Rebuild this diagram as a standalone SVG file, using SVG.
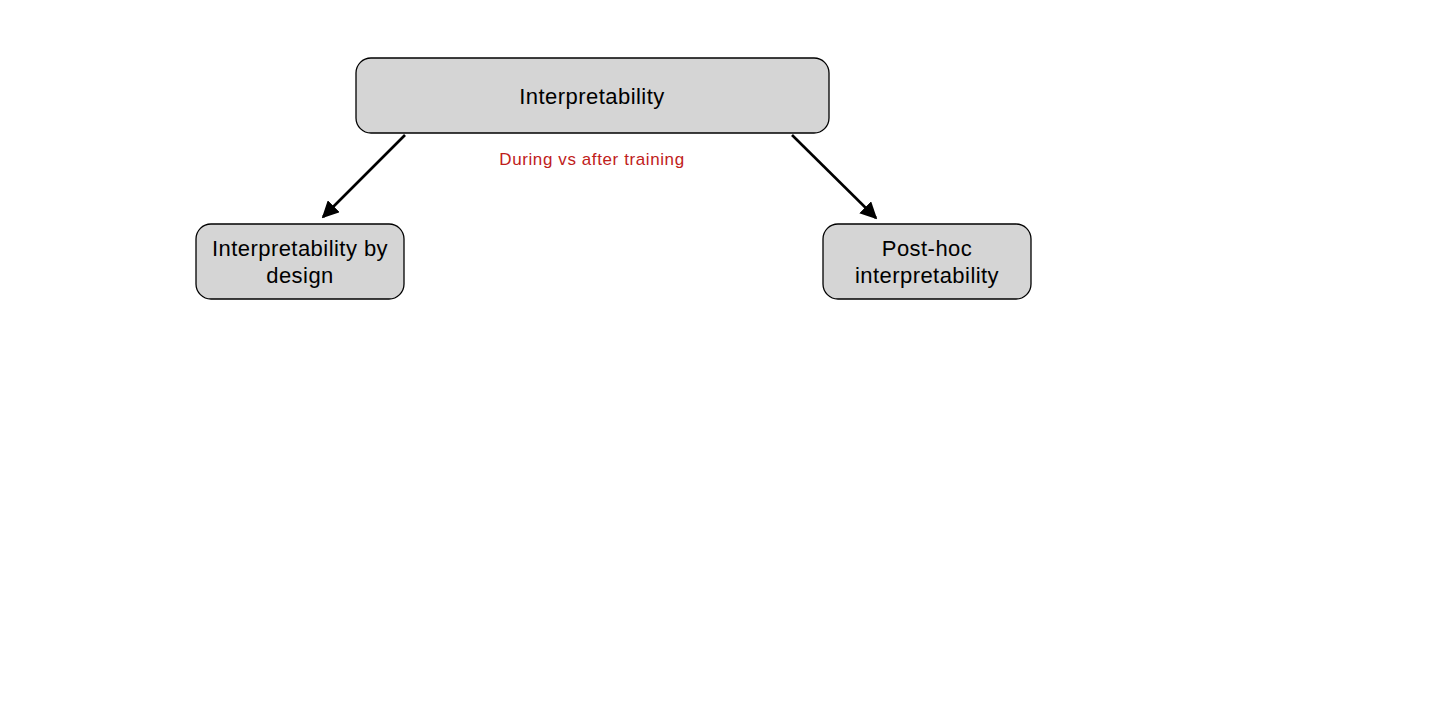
<svg xmlns="http://www.w3.org/2000/svg" width="1432" height="704" viewBox="0 0 1432 704">
<style>
.node{fill:#d5d5d5;stroke:#000;stroke-width:1.3}
.lbl{font-family:"Liberation Sans",Arial,sans-serif;font-size:22px;letter-spacing:0.45px;fill:#000;text-anchor:middle}
.edge{stroke:#000;stroke-width:2.6;fill:none}
.elbl{font-family:"Liberation Sans",Arial,sans-serif;font-size:17px;letter-spacing:0.6px;fill:#c0201a;text-anchor:middle}
</style>
<defs>
<marker id="ah" viewBox="0 0 10 10" refX="9" refY="5" markerWidth="6.5" markerHeight="6.5" markerUnits="strokeWidth" orient="auto">
<path d="M0,0 L10,5 L0,10 z" fill="#000"/>
</marker>
</defs>
<rect width="1432" height="704" fill="#fff"/>
<g id="connectors">
<line class="edge" x1="405" y1="135" x2="323" y2="217" marker-end="url(#ah)"/>
<line class="edge" x1="792" y1="135" x2="876" y2="218" marker-end="url(#ah)"/>
<text class="elbl" x="592" y="165">During vs after training</text>
</g>
<g id="node-interpretability">
<rect class="node" x="356" y="58" width="473" height="75" rx="15"/>
<text class="lbl" x="592" y="104">Interpretability</text>
</g>
<g id="node-by-design">
<rect class="node" x="196" y="224" width="208" height="75" rx="15"/>
<text class="lbl" x="300" y="256">Interpretability by</text>
<text class="lbl" x="300" y="283">design</text>
</g>
<g id="node-post-hoc">
<rect class="node" x="823" y="224" width="208" height="75" rx="15"/>
<text class="lbl" x="927" y="256">Post-hoc</text>
<text class="lbl" x="927" y="283">interpretability</text>
</g>
</svg>
